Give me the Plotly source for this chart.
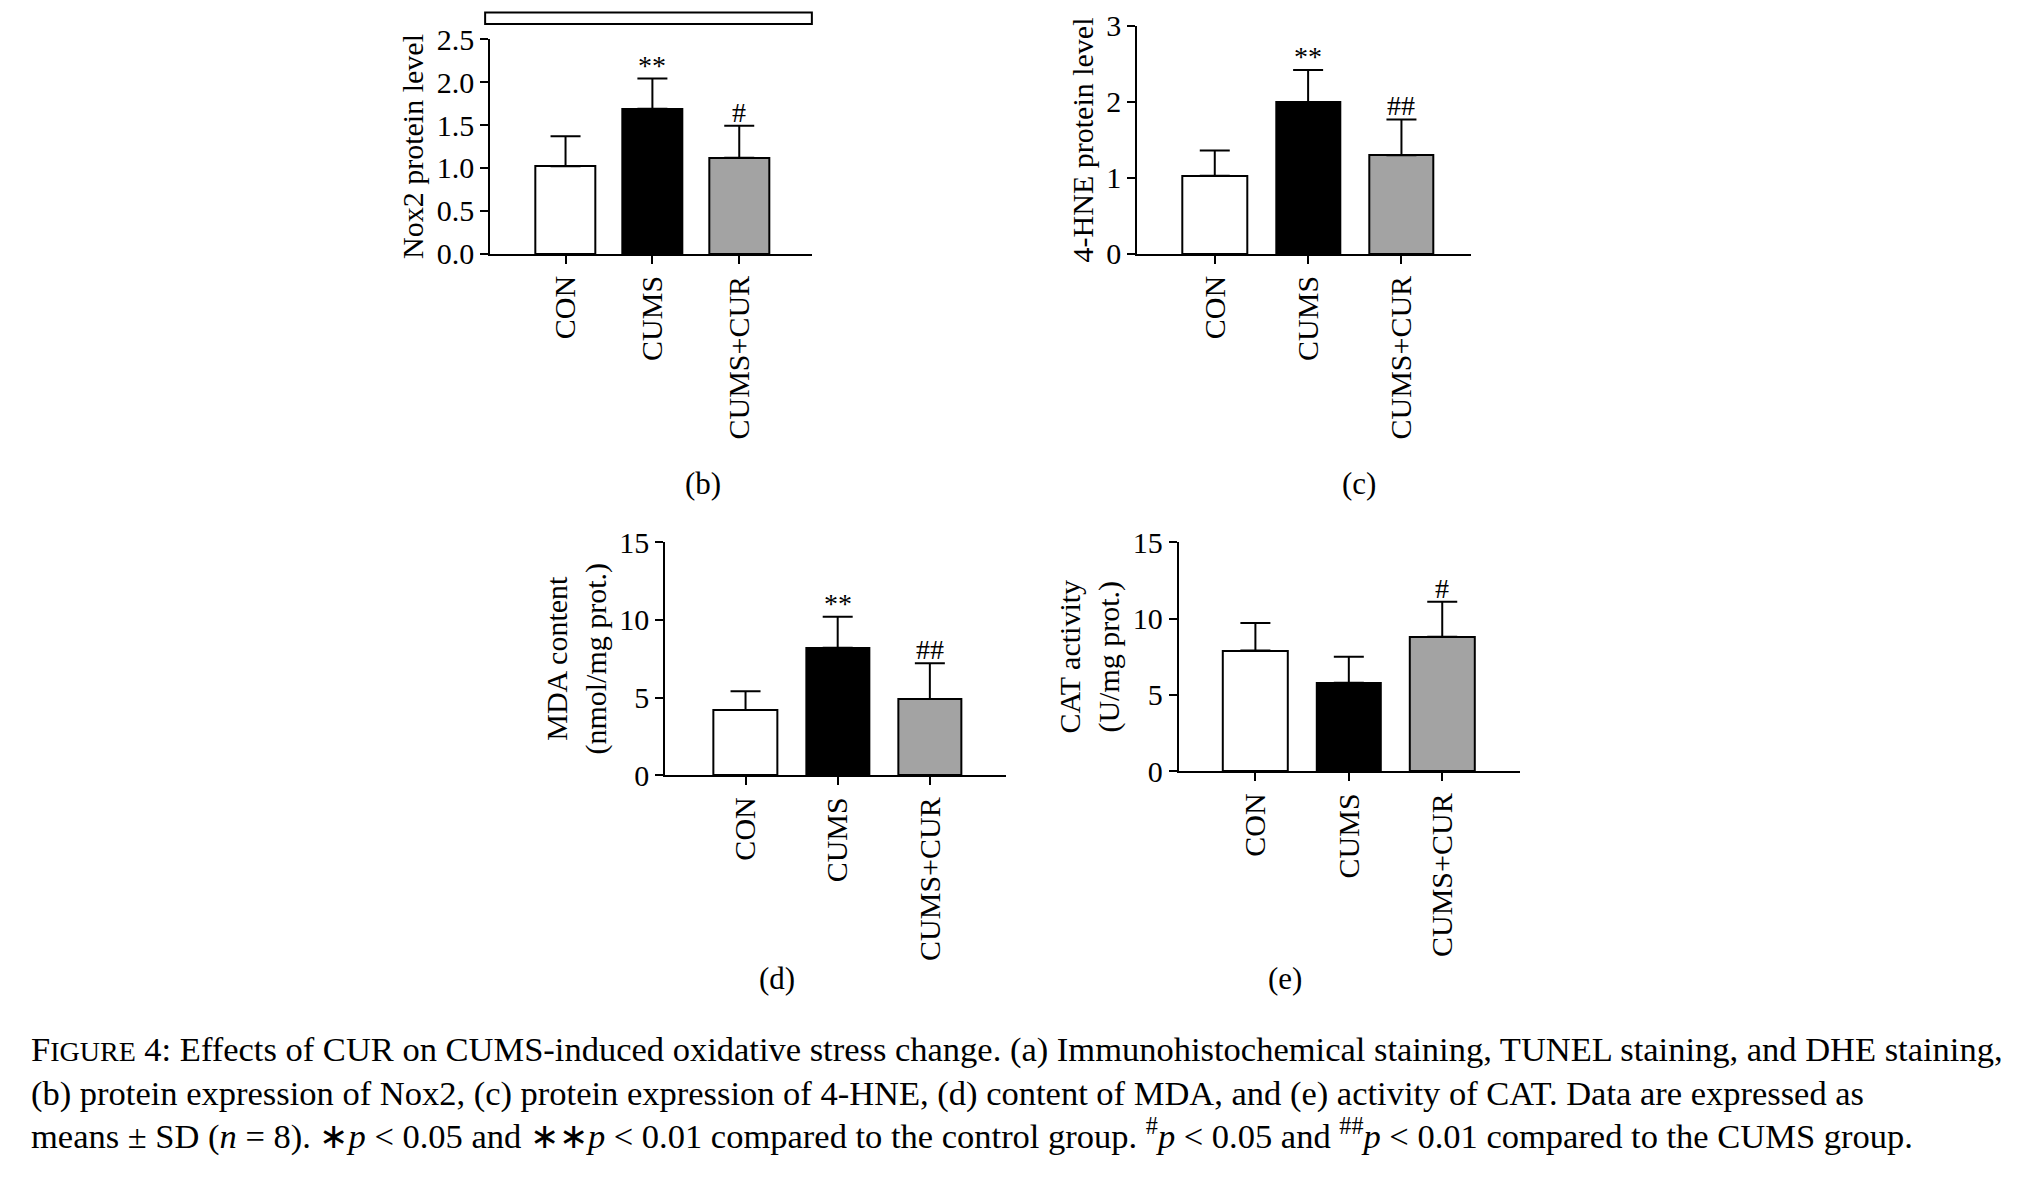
import plotly.graph_objects as go

groups = ["CON", "CUMS", "CUMS+CUR"]
colors = ["white", "black", "#a3a3a3"]

nox2_mean = [1.02, 1.69, 1.12]
nox2_sd = [0.35, 0.35, 0.37]
nox2_sig = ["", "**", "#"]

hne_mean = [1.03, 2.0, 1.3]
hne_sd = [0.33, 0.42, 0.47]
hne_sig = ["", "**", "##"]

mda_mean = [4.2, 8.2, 4.9]
mda_sd = [1.2, 2.0, 2.3]
mda_sig = ["", "**", "##"]

cat_mean = [7.9, 5.8, 8.8]
cat_sd = [1.8, 1.7, 2.3]
cat_sig = ["", "", "#"]

FONT = "Liberation Serif"
W, H = 2033, 1181
DW, DH = 1568, 910  # layout measured on a scaled copy

def fx(v):
    return v / DW

def fy(v):
    # small correction for the page offset seen in the render
    v = (v - 15.5) / 0.963
    return min(1.0, 1 - v / DH)

panels = [
    dict(m=nox2_mean, s=nox2_sd, sig=nox2_sig, title="Nox2 protein level",
         yr=[0, 2.5], dt=0.5, fmt=".1f", xs=(372, 620), ys=(191, 27),
         xr=[-0.866, 2.836], lab="(b)", lp=(536, 366)),
    dict(m=hne_mean, s=hne_sd, sig=hne_sig, title="4-HNE protein level",
         yr=[0, 3], dt=1, fmt="d", xs=(871, 1128), ys=(191, 17),
         xr=[-0.83, 2.74], lab="(c)", lp=(1042, 366)),
    dict(m=mda_mean, s=mda_sd, sig=mda_sig, title="MDA content<br>(nmol/mg prot.)",
         yr=[0, 15], dt=5, fmt="d", xs=(507, 770), ys=(589, 411),
         xr=[-0.87, 2.83], lab="(d)", lp=(593, 759)),
    dict(m=cat_mean, s=cat_sd, sig=cat_sig, title="CAT activity<br>(U/mg prot.)",
         yr=[0, 15], dt=5, fmt="d", xs=(903, 1166), ys=(586, 411),
         xr=[-0.82, 2.83], lab="(e)", lp=(985, 759)),
]

fig = go.Figure()
annotations = []
for i, p in enumerate(panels, start=1):
    xa = "x" if i == 1 else f"x{i}"
    ya = "y" if i == 1 else f"y{i}"
    fig.add_trace(go.Bar(
        x=[0, 1, 2], y=p["m"], width=0.69,
        marker=dict(color=colors, line=dict(color="black", width=2)),
        error_y=dict(type="data", symmetric=False, array=p["s"],
                     arrayminus=[0, 0, 0], color="black", thickness=2, width=15),
        xaxis=xa, yaxis=ya, showlegend=False,
    ))
    for k in range(3):
        if p["sig"][k]:
            annotations.append(dict(
                x=k, y=p["m"][k] + p["s"][k], xref=xa, yref=ya,
                text=p["sig"][k], showarrow=False, yanchor="bottom", yshift=-4,
                font=dict(family=FONT, size=28, color="black")))
    annotations.append(dict(
        x=fx(p["lp"][0]), y=fy(p["lp"][1]), xref="paper", yref="paper",
        text=p["lab"], showarrow=False, font=dict(family=FONT, size=31, color="black")))
    axis_common = dict(showline=True, linecolor="black", linewidth=2, ticks="outside",
                       tickcolor="black", tickwidth=2, ticklen=8, showgrid=False,
                       zeroline=False, tickfont=dict(family=FONT, size=30, color="black"))
    fig.update_layout(**{
        ("xaxis" if i == 1 else f"xaxis{i}"): dict(
            domain=[fx(p["xs"][0]), fx(p["xs"][1])], anchor=ya, range=p["xr"],
            tickvals=[0, 1, 2], ticktext=groups, tickangle=-90, **axis_common),
        ("yaxis" if i == 1 else f"yaxis{i}"): dict(
            domain=[fy(p["ys"][0]), fy(p["ys"][1])], anchor=xa, range=p["yr"],
            dtick=p["dt"], tickformat=p["fmt"],
            title=dict(text=p["title"], font=dict(family=FONT, size=30, color="black"),
                       standoff=4), **axis_common),
    })

caption = [
    "F<span style='font-size:28px'>IGURE</span> 4: Effects of CUR on CUMS-induced oxidative stress change. (a) Immunohistochemical staining, TUNEL staining, and DHE staining,",
    "(b) protein expression of Nox2, (c) protein expression of 4-HNE, (d) content of MDA, and (e) activity of CAT. Data are expressed as",
    "means ± SD (<i>n</i> = 8). ∗<i>p</i> &lt; 0.05 and ∗∗<i>p</i> &lt; 0.01 compared to the control group. <sup>#</sup><i>p</i> &lt; 0.05 and <sup>##</sup><i>p</i> &lt; 0.01 compared to the CUMS group.",
]
for j, line in enumerate(caption):
    annotations.append(dict(
        x=fx(16), y=fy(815 + 33 * j), xref="paper", yref="paper", xanchor="left",
        text=line, showarrow=False, font=dict(family=FONT, size=34.5, color="black")))

# cropped bottom edge of panel (a) image at the top
fig.add_shape(type="rect", xref="paper", yref="paper", x0=fx(368), x1=fx(620),
              y0=fy(1), y1=1.01, line=dict(color="black", width=2))

fig.update_layout(width=W, height=H, margin=dict(l=0, r=0, t=0, b=0),
                  plot_bgcolor="white", paper_bgcolor="white",
                  annotations=annotations, bargap=0)
fig.write_html("out.html")
